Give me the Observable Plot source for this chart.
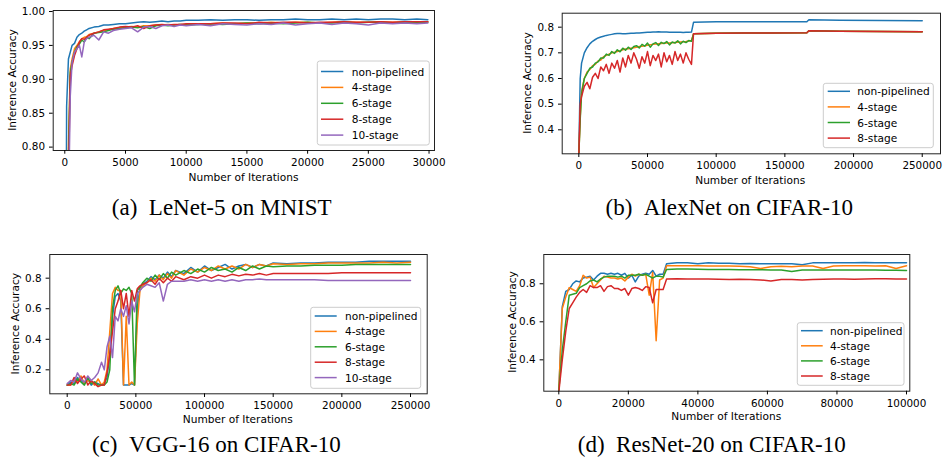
<!DOCTYPE html>
<html><head><meta charset="utf-8">
<script src="https://cdn.jsdelivr.net/npm/d3@7"></script>
<script src="https://cdn.jsdelivr.net/npm/@observablehq/plot@0.6"></script>
<style>
html,body{margin:0;padding:0;background:#fff;}
#root{position:relative;width:943px;height:457px;overflow:hidden;background:#fff;}
.panel{position:absolute;}
#overlay{position:absolute;left:0;top:0;pointer-events:none;}
</style></head><body><div id="root"></div>
<script>
// ---------- series names / colours ----------
const seriesNames = ["non-pipelined","4-stage","6-stage","8-stage","10-stage"];
const seriesColors = ["#1f77b4","#ff7f0e","#2ca02c","#d62728","#9467bd"];

// ---------- (a) LeNet-5 on MNIST ----------
const xA = [0,150,300,450,600,800,1000,1200,1400,1600,1800,2000,2400,2800,3200,3600,4000,4500,5000,5500,6000,6500,7000,7500,8000,8500,9000,9500,10000,11000,12000,13000,14000,15000,16000,17000,18000,19000,20000,21000,22000,23000,24000,25000,26000,27000,28000,29000,29900];
const aNon = [0.10,0.86,0.930,0.940,0.950,0.953,0.962,0.966,0.968,0.971,0.973,0.975,0.977,0.978,0.980,0.980,0.981,0.982,0.982,0.983,0.984,0.985,0.984,0.985,0.986,0.985,0.986,0.986,0.987,
  0.987,0.988,0.987,0.988,0.988,0.987,0.988,0.988,0.989,0.988,0.988,0.989,0.988,0.989,0.988,0.989,0.989,0.988,0.989,0.988];
const a4 = [0.10,0.30,0.80,0.915,0.930,0.945,0.950,0.955,0.960,0.962,0.963,0.966,0.968,0.970,0.972,0.973,0.975,0.976,0.977,0.978,0.977,0.979,0.979,0.980,0.980,0.981,0.980,0.981,0.981,
  0.982,0.982,0.983,0.982,0.983,0.983,0.984,0.983,0.984,0.984,0.983,0.984,0.985,0.984,0.984,0.985,0.984,0.985,0.985,0.985];
const a6 = [0.10,0.25,0.78,0.910,0.925,0.940,0.948,0.952,0.958,0.955,0.962,0.960,0.968,0.969,0.970,0.972,0.974,0.975,0.976,0.977,0.976,0.978,0.975,0.979,0.980,0.979,0.980,0.981,0.980,
  0.981,0.982,0.981,0.982,0.983,0.982,0.983,0.982,0.983,0.984,0.983,0.983,0.984,0.983,0.984,0.984,0.983,0.984,0.984,0.984];
const a8 = [0.10,0.20,0.75,0.905,0.920,0.935,0.945,0.955,0.960,0.959,0.962,0.965,0.968,0.970,0.973,0.974,0.975,0.977,0.978,0.977,0.979,0.975,0.979,0.980,0.981,0.980,0.981,0.981,0.982,
  0.982,0.982,0.983,0.983,0.982,0.984,0.983,0.984,0.984,0.983,0.984,0.984,0.985,0.984,0.984,0.985,0.984,0.985,0.985,0.985];
const a10 = [0.10,0.15,0.70,0.875,0.925,0.940,0.945,0.950,0.933,0.955,0.960,0.962,0.965,0.958,0.970,0.968,0.972,0.974,0.975,0.976,0.970,0.977,0.978,0.975,0.979,0.980,0.978,0.980,0.979,
  0.981,0.979,0.982,0.981,0.980,0.982,0.981,0.983,0.980,0.982,0.983,0.981,0.983,0.982,0.980,0.983,0.982,0.983,0.982,0.983];

// ---------- (b) AlexNet on CIFAR-10 ----------
const xB = [0,1000,2000,4000,6000,8000,10000,12000,14000,16000,18000,20000,22000,24000,26000,28000,30000,32000,34000,36000,38000,40000,42000,44000,46000,48000,50000,52000,54000,56000,58000,60000,62000,64000,66000,68000,70000,72000,74000,76000,78000,80000,82000,
  83500,100000,120000,140000,166000,167500,190000,220000,250000];
const bNon = [0.30,0.60,0.66,0.70,0.72,0.735,0.745,0.752,0.758,0.762,0.765,0.768,0.770,0.772,0.774,0.775,0.775,0.774,0.774,0.775,0.776,0.776,0.777,0.777,0.778,0.779,0.780,0.780,0.781,0.781,0.782,0.781,0.781,0.781,0.780,0.780,0.780,0.780,0.780,0.779,0.780,0.780,0.781,
  0.819,0.821,0.821,0.821,0.821,0.829,0.827,0.826,0.825];
const b4 = [0.30,0.45,0.55,0.60,0.625,0.635,0.650,0.655,0.668,0.672,0.685,0.690,0.695,0.700,0.702,0.705,0.708,0.712,0.715,0.716,0.718,0.720,0.722,0.725,0.726,0.728,0.730,0.732,0.733,0.734,0.735,0.736,0.737,0.738,0.738,0.739,0.740,0.741,0.742,0.743,0.744,0.746,0.748,
  0.774,0.776,0.777,0.777,0.778,0.786,0.784,0.783,0.782];
const b6 = [0.30,0.44,0.54,0.60,0.620,0.640,0.645,0.660,0.665,0.680,0.680,0.695,0.690,0.705,0.698,0.712,0.704,0.718,0.710,0.722,0.713,0.725,0.728,0.719,0.733,0.726,0.738,0.722,0.735,0.740,0.729,0.741,0.736,0.744,0.731,0.742,0.738,0.747,0.735,0.745,0.740,0.748,0.745,
  0.774,0.776,0.777,0.777,0.778,0.786,0.784,0.783,0.782];
const b8 = [0.30,0.50,0.53,0.57,0.585,0.56,0.605,0.62,0.60,0.645,0.63,0.655,0.62,0.66,0.64,0.67,0.625,0.68,0.645,0.69,0.66,0.70,0.675,0.64,0.685,0.66,0.705,0.65,0.69,0.67,0.695,0.645,0.70,0.665,0.69,0.655,0.705,0.67,0.695,0.66,0.70,0.675,0.655,
  0.774,0.776,0.777,0.777,0.778,0.786,0.784,0.783,0.782];

// ---------- (c) VGG-16 on CIFAR-10 ----------
const xC = [0,2500,5000,7500,10000,12500,15000,17500,20000,22500,25000,
  27000,29000,31000,33000,35000,37000,39000,41000,43000,45000,47000,49000,51000,53000,55000,
  58000,61000,64000,67000,70000,73000,76000,79000,
  85000,90000,95000,100000,105000,110000,115000,120000,125000,130000,135000,140000,145000,150000,
  160000,170000,180000,190000,200000,210000,220000,230000,240000,250000];
const cNon = [0.10,0.12,0.11,0.15,0.13,0.11,0.14,0.10,0.12,0.11,0.10,
  0.11,0.15,0.30,0.55,0.68,0.70,0.65,0.10,0.10,0.10,0.11,0.10,0.60,0.74,0.76,
  0.78,0.81,0.79,0.82,0.80,0.84,0.81,0.85,
  0.83,0.87,0.84,0.88,0.85,0.87,0.89,0.86,0.88,0.89,0.87,0.89,0.88,0.90,
  0.895,0.90,0.90,0.905,0.905,0.905,0.91,0.91,0.91,0.91];
const c4 = [0.10,0.10,0.13,0.12,0.16,0.11,0.13,0.12,0.10,0.14,0.10,
  0.12,0.20,0.45,0.70,0.74,0.72,0.72,0.10,0.55,0.10,0.12,0.10,0.50,0.72,0.75,
  0.77,0.80,0.78,0.82,0.79,0.83,0.80,0.85,
  0.82,0.86,0.84,0.87,0.85,0.88,0.86,0.88,0.86,0.89,0.87,0.89,0.88,0.895,
  0.89,0.895,0.895,0.90,0.90,0.90,0.90,0.905,0.90,0.905];
const c6 = [0.10,0.11,0.10,0.14,0.12,0.10,0.15,0.11,0.12,0.10,0.10,
  0.10,0.12,0.20,0.60,0.72,0.75,0.70,0.73,0.72,0.74,0.70,0.10,0.72,0.74,0.77,
  0.80,0.78,0.82,0.79,0.83,0.80,0.84,0.82,
  0.85,0.83,0.86,0.84,0.87,0.85,0.86,0.84,0.87,0.85,0.88,0.86,0.88,0.875,
  0.88,0.88,0.885,0.885,0.885,0.89,0.89,0.89,0.89,0.89];
const c8 = [0.10,0.10,0.15,0.11,0.14,0.16,0.10,0.13,0.11,0.09,0.10,
  0.10,0.18,0.30,0.45,0.60,0.65,0.72,0.60,0.70,0.55,0.72,0.65,0.73,0.75,0.76,
  0.77,0.79,0.76,0.80,0.77,0.80,0.78,0.81,
  0.79,0.81,0.80,0.82,0.80,0.82,0.81,0.825,0.815,0.825,0.82,0.83,0.82,0.83,
  0.83,0.83,0.83,0.83,0.835,0.835,0.835,0.835,0.835,0.835];
const c10 = [0.11,0.13,0.12,0.18,0.14,0.12,0.16,0.13,0.15,0.18,0.25,
  0.20,0.35,0.42,0.28,0.55,0.52,0.60,0.55,0.62,0.50,0.65,0.58,0.70,0.72,0.74,
  0.76,0.75,0.74,0.77,0.65,0.76,0.78,0.78,
  0.78,0.79,0.78,0.79,0.78,0.79,0.78,0.79,0.78,0.79,0.79,0.795,0.79,0.79,
  0.79,0.79,0.79,0.785,0.785,0.785,0.785,0.785,0.785,0.785];

// ---------- (d) ResNet-20 on CIFAR-10 ----------
const xD = [0,1000,2000,3000,4000,5000,6000,7000,8000,9000,10000,11000,12000,13000,14000,15000,16000,17000,18000,19000,20000,21000,22000,23000,24000,25000,26000,27000,28000,29000,30000,31000,
  34000,37000,40000,43000,46000,49000,52000,55000,58000,61000,64000,67000,70000,73000,76000,79000,82000,85000,88000,91000,94000,97000,100000];
const dNon = [0.23,0.68,0.76,0.77,0.80,0.815,0.81,0.83,0.835,0.84,0.82,0.84,0.855,0.855,0.85,0.855,0.85,0.855,0.845,0.855,0.83,0.845,0.81,0.84,0.85,0.855,0.85,0.87,0.84,0.85,0.85,0.905,
  0.91,0.91,0.905,0.91,0.908,0.908,0.905,0.907,0.905,0.905,0.906,0.905,0.90,0.91,0.91,0.91,0.91,0.91,0.912,0.91,0.91,0.91,0.91];
const d4 = [0.24,0.67,0.73,0.78,0.77,0.76,0.79,0.845,0.83,0.835,0.78,0.80,0.82,0.84,0.835,0.83,0.83,0.825,0.83,0.815,0.835,0.85,0.84,0.85,0.845,0.85,0.74,0.86,0.50,0.82,0.83,0.895,
  0.895,0.895,0.895,0.893,0.893,0.893,0.892,0.89,0.88,0.89,0.892,0.89,0.893,0.893,0.88,0.893,0.895,0.895,0.895,0.893,0.895,0.88,0.895];
const d6 = [0.24,0.45,0.60,0.74,0.745,0.75,0.78,0.79,0.80,0.815,0.82,0.81,0.825,0.835,0.84,0.84,0.84,0.835,0.84,0.83,0.845,0.845,0.845,0.85,0.845,0.85,0.84,0.83,0.84,0.84,0.835,0.875,
  0.878,0.878,0.876,0.875,0.875,0.875,0.874,0.874,0.874,0.873,0.873,0.865,0.872,0.872,0.872,0.872,0.872,0.872,0.872,0.872,0.871,0.871,0.87];
const d8 = [0.23,0.40,0.55,0.67,0.70,0.73,0.755,0.77,0.755,0.79,0.78,0.78,0.79,0.76,0.785,0.79,0.775,0.775,0.765,0.775,0.74,0.775,0.78,0.775,0.765,0.785,0.78,0.70,0.77,0.77,0.77,0.825,
  0.826,0.825,0.825,0.825,0.824,0.823,0.824,0.822,0.82,0.815,0.823,0.822,0.82,0.823,0.824,0.825,0.825,0.824,0.825,0.826,0.826,0.825,0.825];

// ---------- tick values ----------
const xTicksA = [0,5000,10000,15000,20000,25000,30000];
const yTicksA = [0.80,0.85,0.90,0.95,1.00];
const xTicksB = [0,50000,100000,150000,200000,250000];
const yTicksB = [0.4,0.5,0.6,0.7,0.8];
const xTicksC = [0,50000,100000,150000,200000,250000];
const yTicksC = [0.2,0.4,0.6,0.8];
const xTicksD = [0,20000,40000,60000,80000,100000];
const yTicksD = [0.4,0.6,0.8];

const captions = ["(a)\u2002LeNet-5 on MNIST","(b)\u2002AlexNet on CIFAR-10","(c)\u2002VGG-16 on CIFAR-10","(d)\u2002ResNet-20 on CIFAR-10"];
const xLabel = "Number of Iterations";
const yLabel = "Inference Accuracy";

// ---------- layout (positions only) ----------
const panels = [
  {x:xA, series:[aNon,a4,a6,a8,a10], xTicks:xTicksA, yTicks:yTicksA, yFmt:".2f",
   xDomain:[-955,30450], yDomain:[0.795,1.0015],
   left:0, top:0, width:470, height:195, mL:52.7, mR:36, mT:10, mB:45,
   xl:[243.5,177.3], yl:[11.7,80], cap:[221.7,215],
   leg:{box:[317.3,61,112,84], y0:71.5, dy:15.9, l1:321, l2:343.3, tx:351.7}},
  {x:xB, series:[bNon,b4,b6,b8], xTicks:xTicksB, yTicks:yTicksB, yFmt:".1f",
   xDomain:[-12100,263300], yDomain:[0.3065,0.8545],
   left:470, top:0, width:473, height:195, mL:91.7, mR:3, mT:12.7, mB:41.7,
   xl:[750.2,180], yl:[527.3,83], cap:[729.2,215],
   leg:{box:[823.3,83.3,110,64.4], y0:91.3, dy:15.6, l1:827.7, l2:850, tx:857.3}},
  {x:xC, series:[cNon,c4,c6,c8,c10], xTicks:xTicksC, yTicks:yTicksC, yFmt:".1f",
   xDomain:[-12670,262150], yDomain:[0.043,0.955],
   left:0, top:230, width:470, height:195, mL:49.3, mR:43.3, mT:24, mB:31.7,
   xl:[237.8,419.3], yl:[15,323.7], cap:[216.3,451.7],
   leg:{box:[310.7,307.3,110,81], y0:316, dy:15.4, l1:314.7, l2:336.7, tx:345}},
  {x:xD, series:[dNon,d4,d6,d8], xTicks:xTicksD, yTicks:yTicksD, yFmt:".1f",
   xDomain:[-4315,100950], yDomain:[0.235,0.954],
   left:470, top:230, width:473, height:195, mL:73.3, mR:33.7, mT:24, mB:34.3,
   xl:[726.3,416], yl:[511.7,322], cap:[711.7,451.7],
   leg:{box:[797.3,322.7,106.7,62.6], y0:330.7, dy:15.1, l1:801, l2:822.7, tx:830}}
];

for (const [k,p] of panels.entries()) for (const s of p.series)
  if (s.length !== p.x.length) throw new Error("panel "+k+" length "+s.length+" vs "+p.x.length);

const root = document.getElementById("root");
const FONT = "'DejaVu Sans', sans-serif";

for (const p of panels) {
  const marks = [];
  p.series.forEach((ys, i) => {
    const data = p.x.map((x, j) => ({x, y: ys[j]}));
    marks.push(Plot.line(data, {x: "x", y: "y", stroke: seriesColors[i], strokeWidth: 1.5, clip: true}));
  });
  marks.push(Plot.frame({stroke: "#222", strokeWidth: 1}));
  marks.push(Plot.axisX(p.xTicks, {tickSize: 3.7, tickPadding: 4.6, tickFormat: d => String(d), label: null, fontSize: 10.4}));
  marks.push(Plot.axisY(p.yTicks, {tickSize: 3.7, tickPadding: 4.5, tickFormat: d3.format(p.yFmt), label: null, fontSize: 10.4}));
  const chart = Plot.plot({
    width: p.width, height: p.height,
    marginLeft: p.mL, marginRight: p.mR, marginTop: p.mT, marginBottom: p.mB,
    x: {domain: p.xDomain}, y: {domain: p.yDomain},
    style: {fontFamily: FONT, fontSize: "10.4px", color: "#000", background: "transparent", overflow: "visible"},
    marks
  });
  const div = document.createElement("div");
  div.className = "panel";
  div.style.left = p.left + "px"; div.style.top = p.top + "px";
  div.appendChild(chart);
  root.appendChild(div);
}

// ---------- overlay: axis labels, legends, captions ----------
const NS = "http://www.w3.org/2000/svg";
const ov = document.createElementNS(NS, "svg");
ov.setAttribute("id", "overlay"); ov.setAttribute("width", 943); ov.setAttribute("height", 457);
function el(tag, attrs, text) {
  const e = document.createElementNS(NS, tag);
  for (const k in attrs) e.setAttribute(k, attrs[k]);
  if (text != null) e.textContent = text;
  ov.appendChild(e); return e;
}
panels.forEach((p, k) => {
  el("text", {x: p.xl[0], y: p.xl[1], "text-anchor": "middle", "dominant-baseline": "central",
    "font-family": FONT, "font-size": "10.6px", fill: "#000"}, xLabel);
  el("text", {transform: `translate(${p.yl[0]},${p.yl[1]}) rotate(-90)`, "text-anchor": "middle", "dominant-baseline": "central",
    "font-family": FONT, "font-size": "10.6px", fill: "#000"}, yLabel);
  const L = p.leg, b = L.box;
  el("rect", {x: b[0], y: b[1], width: b[2], height: b[3], rx: 2.5, fill: "#fff", "fill-opacity": 0.8, stroke: "#ccc", "stroke-width": 1});
  p.series.forEach((s, i) => {
    const yy = L.y0 + i * L.dy;
    el("line", {x1: L.l1, x2: L.l2, y1: yy, y2: yy, stroke: seriesColors[i], "stroke-width": 1.5});
    el("text", {x: L.tx, y: yy, "dominant-baseline": "central", "font-family": FONT, "font-size": "10.6px", fill: "#000"}, seriesNames[i]);
  });
  el("text", {x: p.cap[0], y: p.cap[1], "text-anchor": "middle", "font-family": "'Liberation Serif', 'Times New Roman', serif",
    "font-size": "23px", fill: "#000", style: "white-space:pre"}, captions[k]);
});
root.appendChild(ov);
</script>
</body></html>
